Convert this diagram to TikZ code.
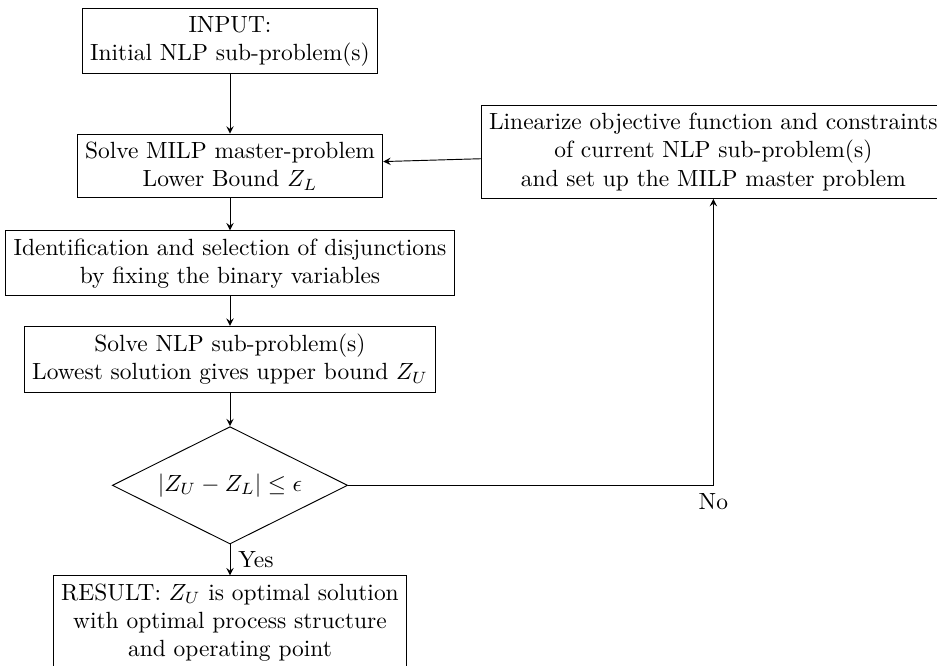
\documentclass[tikz,border=0pt]{standalone}
\usetikzlibrary{shapes.geometric}
\begin{document}
\begin{tikzpicture}[
		box/.style={rectangle, draw, align=center},
		dec/.style={diamond, draw, aspect=2, minimum width=3.53cm, minimum height=1.76cm, inner sep=0pt},
		arr/.style={->, >=stealth}
	]
		\useasboundingbox (0,0) rectangle (14.055,-9.99);
		\node[box] (inp) at (3.45,-0.615) {INPUT:\\Initial NLP sub-problem(s)};
		\node[box] (milp) at (3.45,-2.49) {Solve MILP master-problem\\Lower Bound $Z_L$};
		\node[box] (lin) at (10.70,-2.28) {Linearize objective function and constraints\\of current NLP sub-problem(s)\\and set up the MILP master problem};
		\node[box] (ident) at (3.45,-3.95) {Identification and selection of disjunctions\\by fixing the binary variables};
		\node[box] (nlp) at (3.45,-5.39) {Solve NLP sub-problem(s)\\Lowest solution gives upper bound $Z_U$};
		\node[dec] (check) at (3.45,-7.28) {$|Z_U - Z_L| \leq \epsilon$};
		\node[box, anchor=north] (res) at (3.45,-8.63) {RESULT: $Z_U$ is optimal solution\\with optimal process structure\\and operating point};
		\draw[arr] (inp) -- (milp);
		\draw[arr] (lin) -- (milp);
		\draw[arr] (milp) -- (ident);
		\draw[arr] (ident) -- (nlp);
		\draw[arr] (nlp) -- (check);
		\draw[arr] (check) -- node[right] {Yes} (res);
		\draw[arr] (check.east) -| node[below] {No} (lin.south);
	\end{tikzpicture}
\end{document}
